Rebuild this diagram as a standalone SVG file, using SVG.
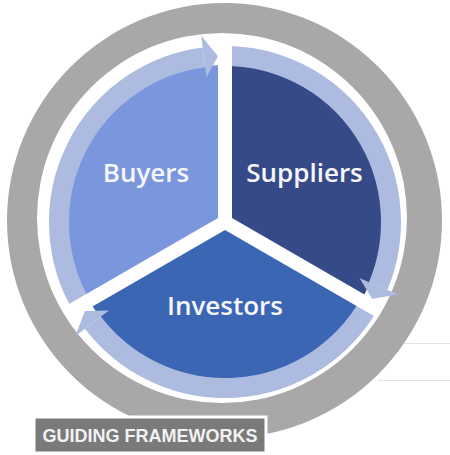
<svg xmlns="http://www.w3.org/2000/svg" xmlns:xlink="http://www.w3.org/1999/xlink" width="450" height="455" viewBox="0 0 450 455">
  <style>
    .lbl { font-family: "Open Sans", "Liberation Sans", sans-serif; font-size: 26px; font-weight: 600; fill: #f5f7fc; text-anchor: middle; }
    .band { fill: none; stroke: #adbbe1; stroke-width: 20; }
    .head { fill: #adbbe1; }
    .div { stroke: #ffffff; stroke-width: 14; stroke-linecap: butt; }
    .title { font-family: "Liberation Sans", Arial, sans-serif; font-size: 18px; font-weight: bold; fill: #f2f2f2; text-anchor: middle; }
  </style>
  <defs>
    <path id="sector" d="M225,222 L89.03,300.5 A157,157 0 0 1 225,65 Z"/>
    <g id="arrow">
      <path class="band" d="M81.24,305 A166,166 0 0 1 203.91,57.35"/>
      <polygon class="head" points="201.11,35.52 217.99,56.15 206.45,77.18"/>
    </g>
  </defs>
  <rect x="0" y="0" width="450" height="455" fill="#ffffff"/>
  <g id="faint-lines" stroke="#e4e4e4" stroke-width="1">
    <line x1="378" y1="343.5" x2="450" y2="343.5"/>
    <line x1="378" y1="380.5" x2="450" y2="380.5"/>
  </g>
  <g id="outer-ring">
    <path fill="#aaa7a8" fill-rule="evenodd" d="M7,220.5 A217.5,217.5 0 1 1 442,220.5 A217.5,217.5 0 1 1 7,220.5 Z M37,218 A185,185 0 1 0 407,218 A185,185 0 1 0 37,218 Z"/>
  </g>
  <g id="title-box">
    <rect x="34" y="417" width="232" height="36" fill="#7a7a7a" stroke="#ffffff" stroke-width="3"/>
    <text class="title" x="150" y="442">GUIDING FRAMEWORKS</text>
  </g>
  <g id="node-buyers">
    <use xlink:href="#sector" href="#sector" fill="#7a96dc"/>
    <text class="lbl" x="146" y="182">Buyers</text>
  </g>
  <g id="node-suppliers">
    <use xlink:href="#sector" href="#sector" fill="#364a88" transform="rotate(120 225 222)"/>
    <text class="lbl" x="304.5" y="182">Suppliers</text>
  </g>
  <g id="node-investors">
    <use xlink:href="#sector" href="#sector" fill="#3b66b4" transform="rotate(240 225 222)"/>
    <text class="lbl" x="225" y="315">Investors</text>
  </g>
  <g id="connectors">
    <use xlink:href="#arrow" href="#arrow"/>
    <use xlink:href="#arrow" href="#arrow" transform="rotate(120 225 222)"/>
    <use xlink:href="#arrow" href="#arrow" transform="rotate(240 225 222)"/>
  </g>
  <g id="dividers">
    <line class="div" x1="225" y1="222" x2="225" y2="40"/>
    <line class="div" x1="225" y1="222" x2="380.9" y2="312"/>
    <line class="div" x1="225" y1="222" x2="69.1" y2="312"/>
    <polygon points="218,222 232,222 225,214" fill="#ffffff"/>
  </g>
</svg>
